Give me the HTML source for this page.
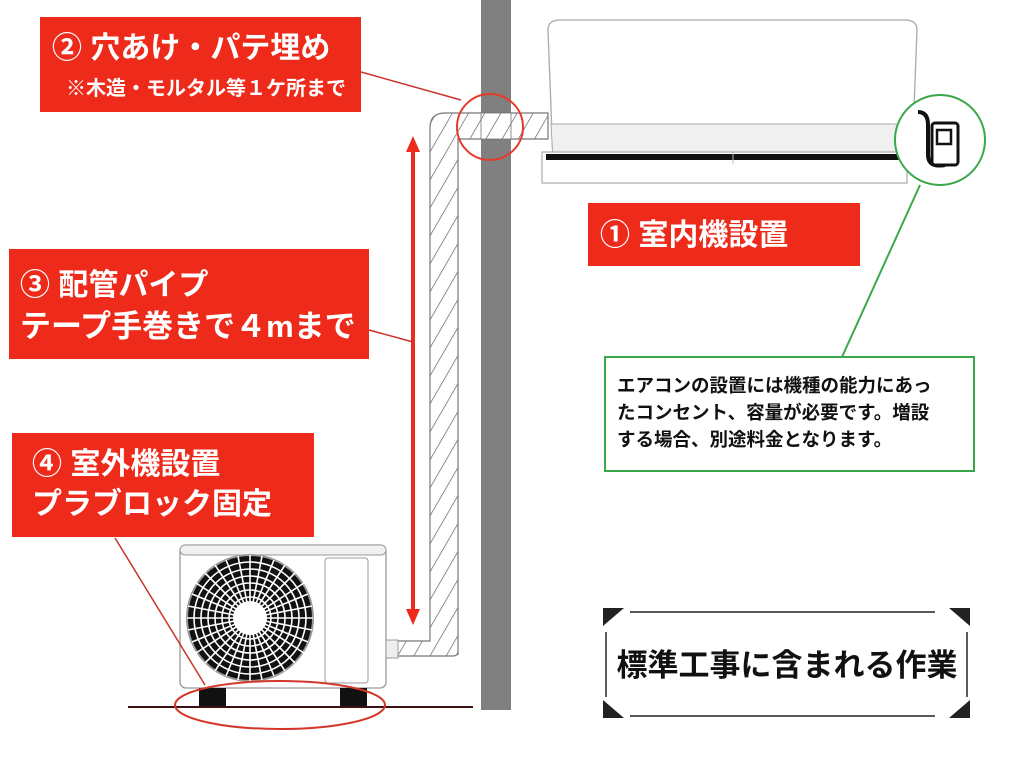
<!DOCTYPE html>
<html><head><meta charset="utf-8"><style>
html,body{margin:0;padding:0;background:#fff;}
svg{display:block;font-family:"Liberation Sans","Noto Sans CJK JP",sans-serif;}
</style></head><body>
<svg width="1024" height="778" viewBox="0 0 1024 778" xmlns="http://www.w3.org/2000/svg">
<defs>
<pattern id="hatch" width="14" height="14" patternUnits="userSpaceOnUse" patternTransform="rotate(30)">
<rect width="14" height="14" fill="#fff"/><line x1="0" y1="0" x2="0" y2="14" stroke="#555" stroke-width="1.3"/>
</pattern>
</defs>
<rect x="481" y="0" width="30" height="710" fill="#808080"/>
<!-- indoor unit -->
<path d="M548,30 Q548,20 560,20 L905,20 Q917,20 917,30 L912,160 L553,160 Z" fill="#fff" stroke="#aaa" stroke-width="1.3"/>
<path d="M551,124 L914,124 L912,160 L553,160 Z" fill="#f0f0f0" stroke="#aaa" stroke-width="1"/>
<rect x="542" y="152" width="365" height="31" fill="#fff" stroke="#aaa" stroke-width="1.2"/>
<rect x="546" y="154" width="357" height="6" fill="#111"/>
<line x1="733" y1="152" x2="733" y2="164" stroke="#bbb"/>
<!-- pipe -->
<path d="M458,655 L458,139 L548,139 L548,113 L445,113 Q430,113 430,128 L430,641 L397,641 L397,656 L453,656 Q458,656 458,651 Z" fill="url(#hatch)" stroke="#777" stroke-width="1.2"/>
<rect x="481" y="113" width="30" height="26" fill="url(#hatch)" stroke="#777" stroke-width="0.8"/>
<circle cx="490" cy="127" r="33" fill="none" stroke="#e53a2c" stroke-width="2"/>
<line x1="361" y1="72" x2="461" y2="100" stroke="#c8332a" stroke-width="1.5"/>
<line x1="413" y1="148" x2="413" y2="612" stroke="#ee2a1b" stroke-width="4"/>
<polygon points="413,136 406,152 420,152" fill="#ee2a1b"/>
<polygon points="413,625 406,609 420,609" fill="#ee2a1b"/>
<line x1="369" y1="330" x2="413" y2="342" stroke="#c8332a" stroke-width="1.5"/>
<!-- outdoor unit -->
<rect x="180" y="545" width="206" height="143" rx="6" fill="#fff" stroke="#999" stroke-width="1.3"/>
<rect x="180" y="545" width="206" height="10" rx="5" fill="#f0f0f0" stroke="#999" stroke-width="1"/>
<rect x="325" y="558" width="43" height="125" rx="3" fill="#fff" stroke="#999"/>
<rect x="386" y="640" width="12" height="18" fill="#eee" stroke="#999"/>
<circle cx="250" cy="618" r="63" fill="#111" stroke="#999" stroke-width="2"/>
<g stroke="#fff" stroke-width="1.6" fill="none">
<circle cx="250" cy="618" r="56"/><circle cx="250" cy="618" r="49"/><circle cx="250" cy="618" r="42"/><circle cx="250" cy="618" r="35"/><circle cx="250" cy="618" r="28"/><circle cx="250" cy="618" r="21"/>
<path d="M250,555V681M187,618H313M205,573L295,663M295,573L205,663M226,560L274,676M274,560L226,676M192,594L308,642M192,642L308,594M238,556L262,680M262,556L238,680M188,606L312,630M188,630L312,606M215,565L285,671M285,565L215,671M196,583L304,653M196,653L304,583"/>
</g>
<circle cx="250" cy="618" r="17" fill="#fff"/>
<rect x="199" y="688" width="27" height="18" fill="#111"/>
<rect x="340" y="688" width="27" height="18" fill="#111"/>
<line x1="128" y1="707" x2="473" y2="707" stroke="#3a1010" stroke-width="2"/>
<ellipse cx="280" cy="705" rx="105" ry="24" fill="none" stroke="#d3382c" stroke-width="2"/>
<line x1="115" y1="538" x2="205" y2="685" stroke="#c8332a" stroke-width="1.5"/>
<!-- outlet -->
<circle cx="940" cy="140" r="45" fill="#fff" stroke="#3aa84a" stroke-width="2"/>
<path d="M918,112 Q928,112 928,125 L928,155 Q928,168 945,165" fill="none" stroke="#111" stroke-width="4"/>
<rect x="932" y="123" width="26" height="42" rx="3" fill="#fff" stroke="#111" stroke-width="3"/>
<rect x="937" y="130" width="14" height="14" fill="#fff" stroke="#111" stroke-width="2.5"/>
<line x1="920" y1="185" x2="842" y2="357" stroke="#3aa84a" stroke-width="2"/>
<rect x="605" y="357" width="369" height="114" fill="#fff" stroke="#3aa84a" stroke-width="2"/>
<g font-size="18.5" fill="#111" font-weight="bold">
<text x="617" y="392">エアコンの設置には機種の能力にあっ</text>
<text x="617" y="419">たコンセント、容量が必要です。増設</text>
<text x="617" y="446">する場合、別途料金となります。</text>
</g>
<!-- red labels -->
<g fill="#fff" font-weight="bold">
<rect x="40" y="17" width="321" height="95" fill="#ee2a1b"/>
<text x="52" y="58" font-size="30">② 穴あけ・パテ埋め</text>
<text x="66" y="95" font-size="20">※木造・モルタル等１ケ所まで</text>
<rect x="588" y="203" width="272" height="63" fill="#ee2a1b"/>
<text x="600" y="245" font-size="30">①  室内機設置</text>
<rect x="9" y="249" width="360" height="110" fill="#ee2a1b"/>
<text x="20" y="295" font-size="30">③ 配管パイプ</text>
<text x="20" y="337" font-size="31">テープ手巻きで４mまで</text>
<rect x="12" y="433" width="302" height="104" fill="#ee2a1b"/>
<text x="32" y="474" font-size="30">④ 室外機設置</text>
<text x="32" y="514" font-size="30">プラブロック固定</text>
</g>
<!-- bracket box -->
<g stroke="#222" stroke-width="1.5">
<line x1="630" y1="612" x2="935" y2="612"/><line x1="630" y1="716" x2="935" y2="716"/>
<line x1="606" y1="632" x2="606" y2="697"/><line x1="967" y1="632" x2="967" y2="697"/>
</g>
<polygon points="603,608 624,608 603,626" fill="#222"/>
<polygon points="970,608 949,608 970,626" fill="#222"/>
<polygon points="603,718 624,718 603,700" fill="#222"/>
<polygon points="970,718 949,718 970,700" fill="#222"/>
<text x="787" y="676" font-size="31" font-weight="bold" fill="#111" text-anchor="middle">標準工事に含まれる作業</text>
</svg>
</body></html>
